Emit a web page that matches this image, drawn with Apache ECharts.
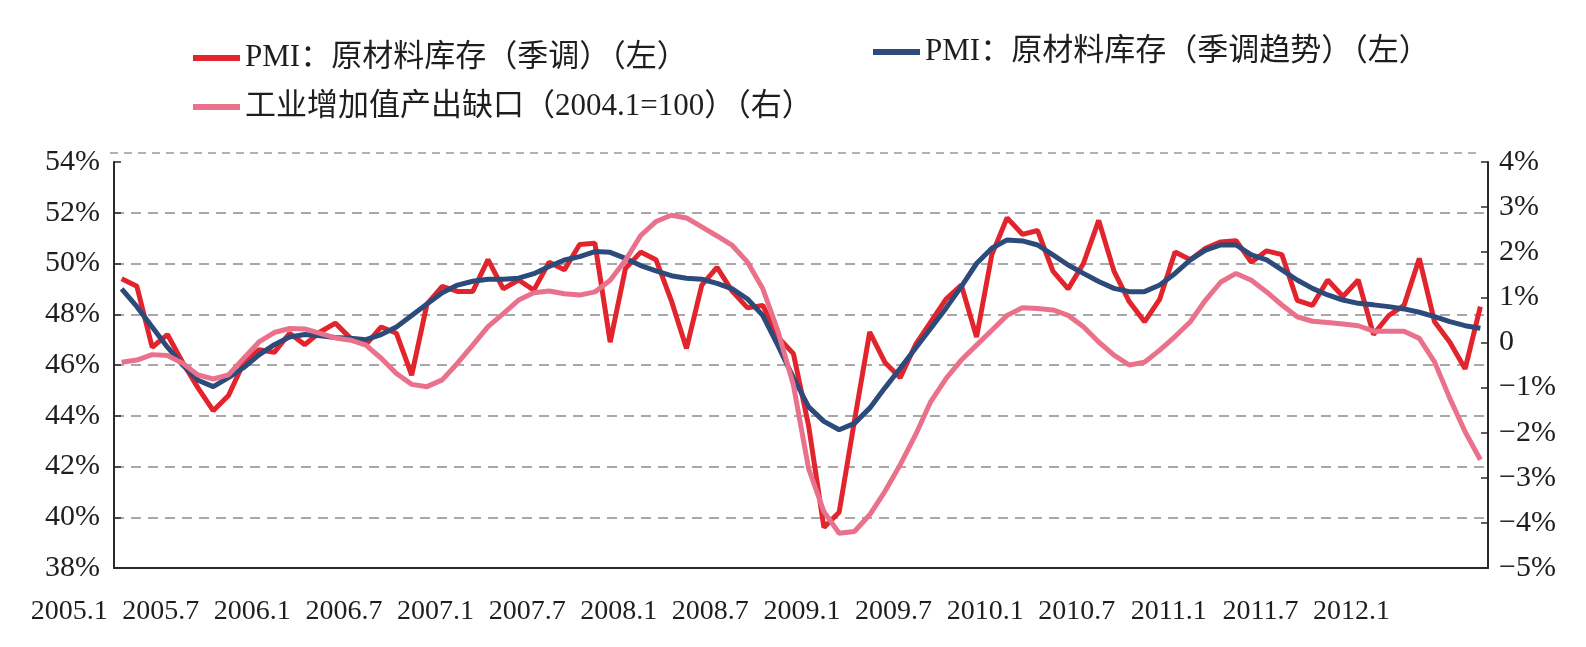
<!DOCTYPE html>
<html>
<head>
<meta charset="utf-8">
<title>PMI原材料库存与工业增加值产出缺口</title>
<script src="https://cdn.jsdelivr.net/npm/echarts@6/dist/echarts.min.js"></script>
<style>
    html, body { margin: 0; padding: 0; background: #fff; }
    #main { width: 1586px; height: 647px; }
</style>
</head>
<body>
<div id="main"></div>
<script>
// 月份 2005.1 - 2012.6
var months = [];
for (var y = 2005; y <= 2012; y++) {
    for (var m = 1; m <= 12; m++) {
        if (y === 2012 && m > 6) break;
        months.push(y + '.' + m);
    }
}

// PMI：原材料库存（季调）
var pmiStock = [
    49.4, 49.1, 46.7, 47.2, 46.1, 45.1, 44.2, 44.8, 46.1, 46.6, 46.5, 47.25,
    46.8, 47.3, 47.65, 47.05, 46.8, 47.5, 47.25, 45.6, 48.4, 49.1, 48.9, 48.9,
    50.15, 49.0, 49.35, 48.95, 50.05, 49.75, 50.75, 50.8, 46.9, 49.8, 50.45, 50.15,
    48.55, 46.65, 49.15, 49.85, 48.9, 48.25, 48.35, 47.1, 46.45, 43.6, 39.6, 40.2,
    43.8, 47.3, 46.1, 45.5, 46.8, 47.7, 48.6, 49.15, 47.1, 50.35, 51.8, 51.15,
    51.3, 49.7, 49.0, 50.0, 51.7, 49.7, 48.5, 47.7, 48.6, 50.45, 50.15, 50.6,
    50.85, 50.9, 50.05, 50.5, 50.35, 48.55, 48.35, 49.35, 48.7, 49.35, 47.2, 47.95,
    48.35, 50.2, 47.7, 46.9, 45.85, 48.3
];

// PMI：原材料库存（季调趋势）
var pmiTrend = [
    49.0, 48.3, 47.5, 46.7, 46.0, 45.4, 45.15, 45.5, 45.9, 46.4, 46.8, 47.1,
    47.2, 47.15, 47.08, 47.05, 47.0, 47.2, 47.5, 47.95, 48.4, 48.85, 49.15, 49.3,
    49.38, 49.38, 49.42, 49.6, 49.88, 50.14, 50.27, 50.47, 50.44, 50.2, 49.92, 49.71,
    49.52, 49.42, 49.38, 49.22, 49.0, 48.6, 47.95, 46.75, 45.5, 44.35, 43.78, 43.45,
    43.7, 44.3, 45.1, 45.87, 46.66, 47.45, 48.24, 49.09, 50.0, 50.6, 50.93, 50.89,
    50.73, 50.34, 49.94, 49.61, 49.29, 49.02, 48.89, 48.89, 49.15, 49.61, 50.14, 50.53,
    50.73, 50.73, 50.34, 50.14, 49.75, 49.35, 49.02, 48.76, 48.56, 48.43, 48.37, 48.3,
    48.21, 48.08, 47.91, 47.71, 47.55, 47.45
];

// 工业增加值产出缺口（2004.1=100）
var outputGap = [
    -0.44, -0.39, -0.27, -0.29, -0.46, -0.72, -0.81, -0.72, -0.35, 0.01, 0.22, 0.31,
    0.30, 0.20, 0.10, 0.05, -0.06, -0.35, -0.69, -0.93, -0.98, -0.83, -0.46, -0.06,
    0.35, 0.64, 0.94, 1.10, 1.14, 1.08, 1.05, 1.12, 1.38, 1.82, 2.37, 2.68,
    2.82, 2.76, 2.56, 2.36, 2.15, 1.78, 1.19, 0.24, -0.94, -2.8, -3.75, -4.23,
    -4.19, -3.82, -3.3, -2.71, -2.05, -1.31, -0.8, -0.39, -0.06, 0.27, 0.6, 0.77,
    0.75, 0.72, 0.6, 0.35, 0.01, -0.28, -0.5, -0.44, -0.17, 0.13, 0.46, 0.94,
    1.34, 1.53, 1.38, 1.12, 0.83, 0.57, 0.47, 0.44, 0.41, 0.37, 0.25, 0.25,
    0.25, 0.09, -0.43, -1.24, -1.98, -2.6
];

var names = [
    'PMI：原材料库存（季调）（左）',
    'PMI：原材料库存（季调趋势）（左）',
    '工业增加值产出缺口（2004.1=100）（右）'
];
var colors = ['#e2242c', '#2c4b7b', '#e9718b'];

var serifFont = '"Liberation Serif", "Times New Roman", "Noto Sans CJK SC", serif';
var legendText = {
    fontSize: 31,
    lineHeight: 36,
    color: '#1e1e1e',
    fontFamily: serifFont
};

var chart = echarts.init(document.getElementById('main'));

var option = {
    animation: false,
    backgroundColor: '#fff',
    color: colors,
    // 三个图例分别定位
    legend: [
        {data: [names[0]], left: 188, top: 35, itemWidth: 47, itemHeight: 6, icon: 'rect', textStyle: legendText},
        {data: [names[1]], left: 868, top: 29, itemWidth: 47, itemHeight: 6, icon: 'rect', textStyle: legendText},
        {data: [names[2]], left: 188, top: 84, itemWidth: 47, itemHeight: 6, icon: 'rect', textStyle: legendText}
    ],
    grid: {
        left: 114,
        right: 98,
        top: 162,
        bottom: 79,
        containLabel: false
    },
    xAxis: {
        type: 'category',
        data: months,
        boundaryGap: true,
        axisLine: {onZero: false, lineStyle: {color: '#2a2a2a', width: 2}},
        axisTick: {inside: true, length: 7, interval: 5, lineStyle: {color: '#2a2a2a', width: 1.5}},
        axisLabel: {
            interval: 5,
            margin: 30,
            align: 'right',
            padding: [0, 14, 0, 0],
            fontSize: 28,
            color: '#1e1e1e',
            fontFamily: serifFont
        },
        splitLine: {show: false}
    },
    yAxis: [
        {
            type: 'value',
            min: 38,
            max: 54,
            interval: 2,
            position: 'left',
            axisLine: {show: true, lineStyle: {color: '#2a2a2a', width: 2}},
            axisTick: {show: true, inside: true, length: 7, lineStyle: {color: '#2a2a2a', width: 1.5}},
            axisLabel: {
                margin: 14,
                fontSize: 30,
                color: '#1e1e1e',
                fontFamily: serifFont,
                formatter: '{value}%'
            },
            splitLine: {
                show: true,
                showMinLine: false,
                showMaxLine: false,
                lineStyle: {color: '#8c8c8c', width: 1.5, type: [10, 7]}
            }
        },
        {
            type: 'value',
            min: -5,
            max: 4,
            interval: 1,
            position: 'right',
            axisLine: {show: true, lineStyle: {color: '#2a2a2a', width: 2}},
            axisTick: {show: true, inside: true, length: 7, lineStyle: {color: '#2a2a2a', width: 1.5}},
            axisLabel: {
                margin: 11,
                fontSize: 30,
                color: '#1e1e1e',
                fontFamily: serifFont,
                formatter: function (v) {
                    if (v === 0) return '0';
                    return (v < 0 ? '\u2212' + (-v) : v) + '%';
                }
            },
            splitLine: {show: false}
        }
    ],
    // 顶部虚线
    graphic: [
        {
            type: 'line',
            silent: true,
            shape: {x1: 110, y1: 153, x2: 1480, y2: 153},
            style: {stroke: '#9a9a9a', lineWidth: 1.5, lineDash: [8, 6]}
        }
    ],
    series: [
        {
            name: names[0],
            type: 'line',
            yAxisIndex: 0,
            data: pmiStock,
            symbol: 'none',
            lineStyle: {width: 5, color: colors[0]},
            z: 2
        },
        {
            name: names[1],
            type: 'line',
            yAxisIndex: 0,
            data: pmiTrend,
            symbol: 'none',
            lineStyle: {width: 5, color: colors[1]},
            z: 3
        },
        {
            name: names[2],
            type: 'line',
            yAxisIndex: 1,
            data: outputGap,
            symbol: 'none',
            lineStyle: {width: 5, color: colors[2]},
            z: 4
        }
    ]
};

chart.setOption(option);
</script>
</body>
</html>
